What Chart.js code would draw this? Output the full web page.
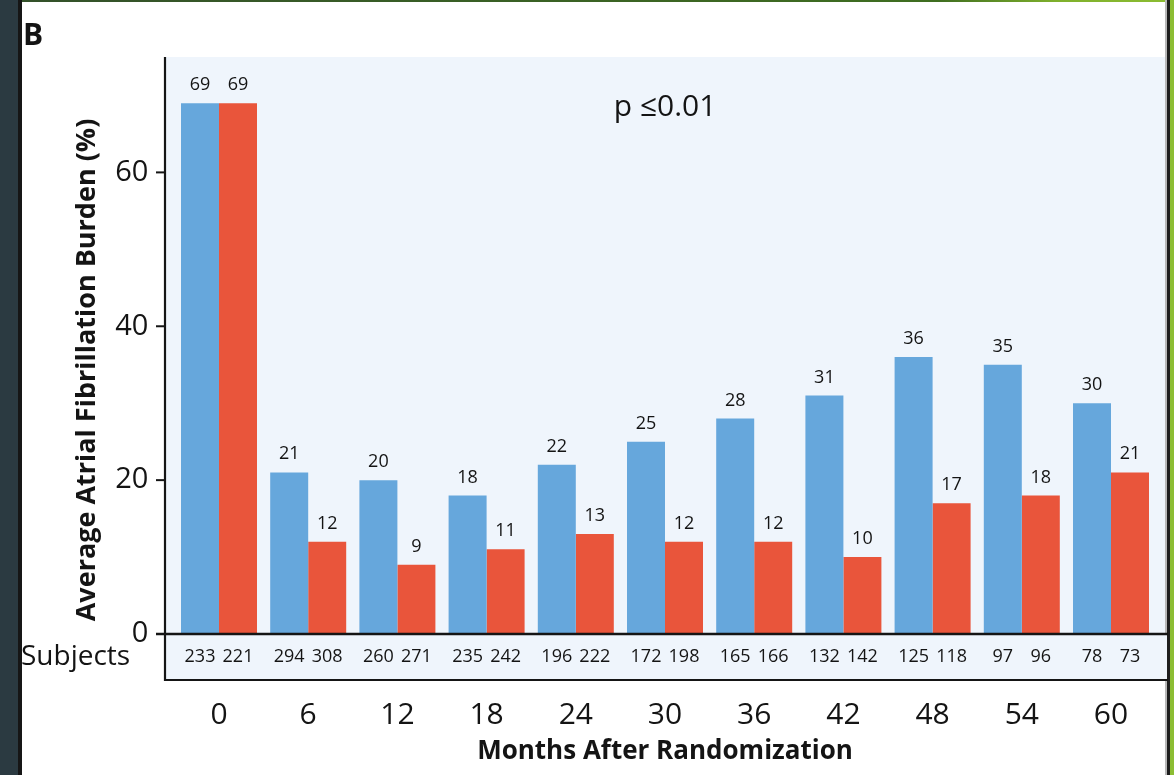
<!DOCTYPE html>
<html>
<head>
<meta charset="utf-8">
<script src="https://cdn.jsdelivr.net/npm/chart.js@4/dist/chart.umd.min.js"></script>
<style>
  html, body { margin: 0; padding: 0; background: #ffffff; }
  canvas { display: block; }
</style>
</head>
<body>
<canvas id="afChart" width="1174" height="775"></canvas>
<script>
// Follow-up time points (months after randomization)
const months = ['0', '6', '12', '18', '24', '30', '36', '42', '48', '54', '60'];

// Average atrial fibrillation burden (%) per group
const burdenGroup1 = [69, 21, 20, 18, 22, 25, 28, 31, 36, 35, 30];
const burdenGroup2 = [69, 12, 9, 11, 13, 12, 12, 10, 17, 18, 21];

// Number of subjects contributing at each time point
const subjectsGroup1 = [233, 294, 260, 235, 196, 172, 165, 132, 125, 97, 78];
const subjectsGroup2 = [221, 308, 271, 242, 222, 198, 166, 142, 118, 96, 73];

// Y axis tick values
const yTickValues = [0, 20, 40, 60];

const FONT = '"Open Sans", "Noto Sans", "DejaVu Sans", sans-serif';
const INK = '#141414';
const PANEL = '#eff5fc';
const BLUE = '#66a7dc';
const RED = '#e9553b';

const panelPlugin = {
  id: 'panelPlugin',
  beforeDraw(chart) {
    const { ctx, chartArea: ca } = chart;
    const W = chart.width, H = chart.height;
    ctx.save();
    ctx.fillStyle = '#ffffff';
    ctx.fillRect(0, 0, W, H);

    // page frame
    ctx.fillStyle = '#2b3a41';
    ctx.fillRect(0, 0, 18, H);
    ctx.fillStyle = '#161616';
    ctx.fillRect(18, 0, 4, H);
    const g = ctx.createLinearGradient(0, 0, W, 0);
    g.addColorStop(0, '#33502a');
    g.addColorStop(0.8, '#3f6e20');
    g.addColorStop(0.9, '#7fb02c');
    g.addColorStop(1, '#8cbd32');
    ctx.fillStyle = g;
    ctx.fillRect(22, 0, W - 22, 2);
    ctx.fillStyle = '#b8b8b8';
    ctx.fillRect(W - 9, 0, 2, H);
    ctx.fillStyle = '#1e1e1e';
    ctx.fillRect(W - 7, 0, 3, H);
    ctx.fillStyle = '#8cbd32';
    ctx.fillRect(W - 4, 0, 4, H);

    // plot panel and subjects band
    const axisX = ca.left - 9.4;
    ctx.fillStyle = PANEL;
    ctx.fillRect(axisX, ca.top, (W - 9) - axisX, ca.bottom - ca.top);
    ctx.fillRect(axisX, ca.bottom, (W - 7) - axisX, 46);
    ctx.restore();
  },
  afterDatasetsDraw(chart) {
    const { ctx, chartArea: ca, scales } = chart;
    const W = chart.width;
    const y = scales.y;
    const axisX = ca.left - 9.4;
    const zeroY = y.getPixelForValue(0);
    const bandBottom = zeroY + 46;
    ctx.save();
    ctx.strokeStyle = '#151515';

    // y axis line, continuing down the subjects band
    ctx.lineWidth = 2.2;
    ctx.beginPath();
    ctx.moveTo(axisX, ca.top);
    ctx.lineTo(axisX, bandBottom + 1);
    ctx.stroke();

    // tick marks
    ctx.lineWidth = 2;
    yTickValues.forEach(v => {
      const py = y.getPixelForValue(v);
      ctx.beginPath();
      ctx.moveTo(axisX - 9, py);
      ctx.lineTo(axisX, py);
      ctx.stroke();
    });

    // baseline and subjects band bottom
    ctx.lineWidth = 2.6;
    ctx.beginPath();
    ctx.moveTo(axisX - 9, zeroY);
    ctx.lineTo(W - 6, zeroY);
    ctx.stroke();
    ctx.lineWidth = 2.2;
    ctx.beginPath();
    ctx.moveTo(axisX - 1, bandBottom);
    ctx.lineTo(W - 6, bandBottom);
    ctx.stroke();

    // value labels above bars and subject counts below
    ctx.fillStyle = INK;
    ctx.textAlign = 'center';
    const subjects = [subjectsGroup1, subjectsGroup2];
    chart.data.datasets.forEach((ds, di) => {
      const meta = chart.getDatasetMeta(di);
      meta.data.forEach((bar, i) => {
        ctx.font = '18px ' + FONT;
        ctx.textBaseline = 'alphabetic';
        ctx.fillText(String(ds.data[i]), bar.x, bar.y - 13);
        ctx.textBaseline = 'middle';
        ctx.fillText(String(subjects[di][i]), bar.x, zeroY + 23);
      });
    });

    // row label
    ctx.textAlign = 'left';
    ctx.textBaseline = 'middle';
    ctx.font = '28px ' + FONT;
    ctx.fillText('Subjects', 21, zeroY + 23);

    // y axis title
    ctx.save();
    ctx.translate(87, 370);
    ctx.rotate(-Math.PI / 2);
    ctx.textAlign = 'center';
    ctx.textBaseline = 'middle';
    ctx.font = 'bold 27px ' + FONT;
    ctx.fillText('Average Atrial Fibrillation Burden (%)', 0, 0);
    ctx.restore();

    // significance note
    ctx.textAlign = 'center';
    ctx.font = '30px ' + FONT;
    ctx.fillText('p \u22640.01', (ca.left + ca.right) / 2, 107);

    // panel letter
    ctx.textAlign = 'left';
    ctx.font = 'bold 30px ' + FONT;
    ctx.fillText('B', 23, 36);
    ctx.restore();
  }
};

new Chart(document.getElementById('afChart'), {
  type: 'bar',
  data: {
    labels: months,
    datasets: [
      { label: 'Group 1', data: burdenGroup1, backgroundColor: BLUE,
        barPercentage: 1, categoryPercentage: 0.852 },
      { label: 'Group 2', data: burdenGroup2, backgroundColor: RED,
        barPercentage: 1, categoryPercentage: 0.852 }
    ]
  },
  options: {
    responsive: false,
    animation: false,
    devicePixelRatio: 1,
    layout: { padding: { top: 57, right: 18.4, left: 0, bottom: 0 } },
    plugins: { legend: { display: false }, tooltip: { enabled: false } },
    scales: {
      x: {
        grid: { display: false, drawTicks: false },
        border: { display: false },
        ticks: { padding: 63, color: INK, font: { family: FONT, size: 30 } },
        title: {
          display: true, text: 'Months After Randomization', color: INK,
          font: { family: FONT, size: 26, weight: 'bold' },
          padding: { top: 0, bottom: 8 }
        },
        afterFit(scale) {
          scale.height = 141;
          scale.paddingLeft = 0;
          scale.paddingRight = 0;
        }
      },
      y: {
        min: 0, max: 75,
        grid: { display: false, drawTicks: false },
        border: { display: false },
        ticks: {
          stepSize: 20, includeBounds: false, padding: 26, color: INK,
          font: { family: FONT, size: 29 }
        },
        afterFit(scale) {
          scale.width = 174.4;
          scale.paddingTop = 0;
          scale.paddingBottom = 0;
        }
      }
    }
  },
  plugins: [panelPlugin]
});
</script>
</body>
</html>
